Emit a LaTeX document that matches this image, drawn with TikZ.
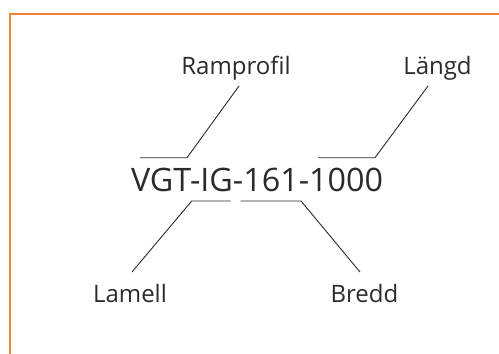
\documentclass[tikz,border=0pt]{standalone}
\usepackage{fontspec}
\setmainfont{Open Sans}
\definecolor{frameorange}{HTML}{F08236}
\definecolor{ink}{HTML}{2B2B2B}
\begin{document}
\begin{tikzpicture}[x=1pt,y=-1pt,
  lbl/.style={text=ink,inner sep=0pt,anchor=base,font=\fontsize{24}{28}\selectfont},
  code/.style={text=ink,inner sep=0pt,anchor=base,font=\fontsize{32.3}{37}\selectfont},
  leader/.style={draw=ink,line width=0.9pt}]
\useasboundingbox (0,0) rectangle (499,354);
\fill[white] (0,0) rectangle (499,354);
\draw[frameorange,line width=2pt] (10,354) -- (10,13.7) -- (499,13.7);
\node[code] (main) at (257,191.7) {VGT-IG-161-1000};
\node[lbl] (ramp) at (236,74) {Ramprofil};
\node[lbl] (lang) at (437.5,74) {Längd};
\node[lbl] (lam) at (130,302.5) {Lamell};
\node[lbl] (bre) at (364.5,302.5) {Bredd};
\coordinate (r1) at (140,157.7);
\coordinate (r2) at (187,157.7);
\coordinate (r3) at (239,86);
\coordinate (l1) at (318,157.7);
\coordinate (l2) at (375,157.7);
\coordinate (l3) at (428,86);
\coordinate (m1) at (230.7,201);
\coordinate (m2) at (191.7,201);
\coordinate (m3) at (132,272);
\coordinate (b1) at (240.7,201);
\coordinate (b2) at (301,201);
\coordinate (b3) at (360,272);
\draw[leader] (r1) -- (r2) -- (r3);
\draw[leader] (l1) -- (l2) -- (l3);
\draw[leader] (m1) -- (m2) -- (m3);
\draw[leader] (b1) -- (b2) -- (b3);
\end{tikzpicture}
\end{document}
